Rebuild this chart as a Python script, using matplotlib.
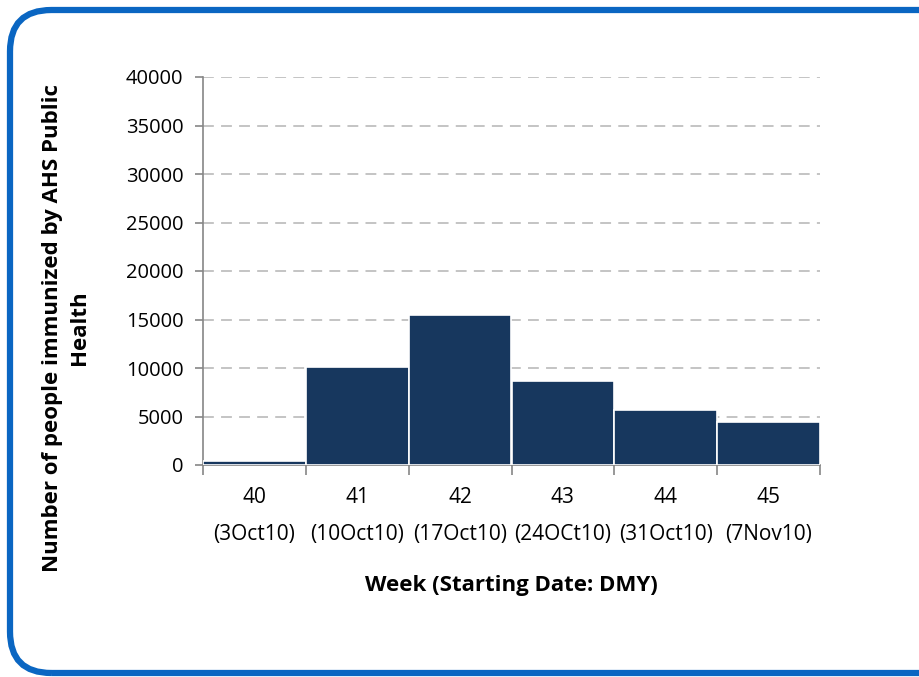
import matplotlib
matplotlib.use('Agg')
import matplotlib.pyplot as plt
from matplotlib.patches import FancyBboxPatch

weeks = ['40', '41', '42', '43', '44', '45']
start_dates = ['(3Oct10)', '(10Oct10)', '(17Oct10)', '(24OCt10)', '(31Oct10)', '(7Nov10)']
immunized = [450, 10100, 15480, 8660, 5690, 4450]

plt.rcParams['font.family'] = ['Open Sans', 'DejaVu Sans']

fig = plt.figure(figsize=(9.19, 6.77), dpi=100)
ax = fig.add_axes([203 / 919, 1 - 465 / 677, 617 / 919, 388 / 677])

# rounded blue frame around the whole chart
frame = FancyBboxPatch((10 / 919, 4 / 677), 960 / 919, 663 / 677,
                       boxstyle='round,pad=0,rounding_size=0.045',
                       transform=fig.transFigure, facecolor='none',
                       edgecolor='#0A66C2', linewidth=4.5, clip_on=False,
                       mutation_aspect=919 / 677)
fig.patches.append(frame)

x = range(len(weeks))
ax.bar(x, immunized, width=1.0, color='#17375E', edgecolor='white', linewidth=1.2, zorder=3)

ax.set_xlim(-0.5, len(weeks) - 0.5)
ax.set_ylim(0, 40000)
ax.set_yticks(range(0, 40001, 5000))
ax.yaxis.grid(True, linestyle=(0, (6, 4)), color='#BFBFBF', linewidth=1.3, zorder=0)

ax.set_xticks([i - 0.5 for i in range(len(weeks) + 1)])
ax.set_xticklabels([])
ax.set_xticks(list(x), minor=True)
ax.set_xticklabels([w + '\n' + d for w, d in zip(weeks, start_dates)], minor=True,
                   linespacing=2.0)
ax.tick_params(axis='x', which='minor', length=0, pad=16, labelsize=15)
ax.tick_params(axis='x', which='major', length=7, color='#868686', width=1.2)
ax.tick_params(axis='y', length=6, color='#868686', width=1.2, labelsize=14.5, pad=8)

for side in ['top', 'right']:
    ax.spines[side].set_visible(False)
for side in ['left', 'bottom']:
    ax.spines[side].set_color('#868686')
    ax.spines[side].set_linewidth(1.2)

fig.text(511 / 919, 1 - 586 / 677, 'Week (Starting Date: DMY)', ha='center', va='center',
         fontsize=16, fontweight='bold')
fig.text(66 / 919, 1 - 328 / 677, 'Number of people immunized by AHS Public\nHealth',
         ha='center', va='center', rotation=90, fontsize=16, fontweight='bold',
         linespacing=1.35)

fig.savefig('out.png', dpi=100)
